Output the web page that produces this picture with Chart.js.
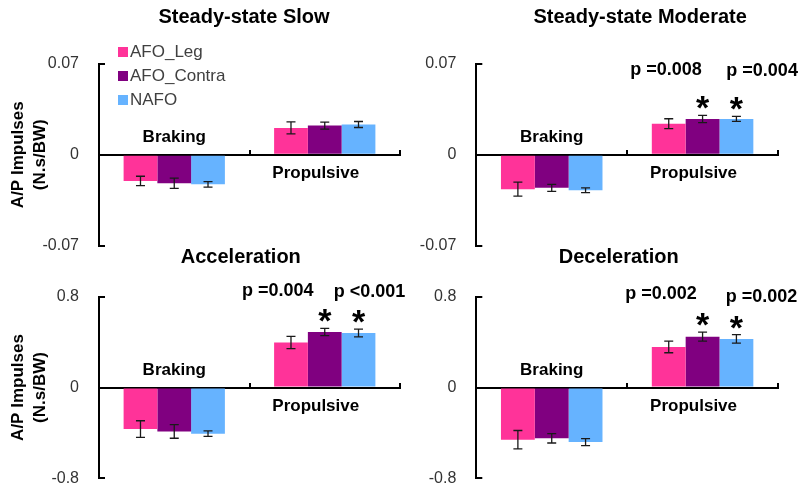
<!DOCTYPE html>
<html>
<head>
<meta charset="utf-8">
<title>A/P impulses by condition</title>
<script src="https://cdn.jsdelivr.net/npm/chart.js@4.4.1/dist/chart.umd.min.js"></script>
<style>
  body { margin: 0; background: #fff; }
  #wrap { position: relative; width: 800px; height: 489px; overflow: hidden; font-family: 'Liberation Sans', Arial, sans-serif; }
  #wrap canvas { position: absolute; }
  #legend { position: absolute; left: 118px; top: 40px; font-size: 17px; color: #404040; }
  #legend div { display: flex; align-items: center; height: 24px; white-space: nowrap; }
  #legend span { display: inline-block; width: 10px; height: 10px; margin-right: 2px; }
</style>
</head>
<body>
<div id="wrap">
  <canvas id="slow" width="420" height="262" style="left:0;top:0"></canvas>
  <canvas id="moderate" width="400" height="262" style="left:400px;top:0"></canvas>
  <canvas id="accel" width="420" height="249" style="left:0;top:240px"></canvas>
  <canvas id="decel" width="400" height="249" style="left:400px;top:240px"></canvas>
  <div id="legend"></div>
</div>
<script>
const FONT = "'Liberation Sans', Arial, sans-serif";

const phases = ['Braking', 'Propulsive'];
const seriesNames = ['AFO_Leg', 'AFO_Contra', 'NAFO'];
const seriesColors = ['#FF3399', '#800080', '#66B3FF'];

const steadyTicks = [-0.07, 0, 0.07];
const transientTicks = [-0.8, 0, 0.8];

// mean impulse per series, [braking, propulsive]
const slowMeans = [[-0.0201, 0.0206], [-0.0219, 0.0224], [-0.0227, 0.0232]];
const slowErrors = [[0.0036, 0.0046], [0.0039, 0.0027], [0.0021, 0.0023]];
const slowPLabels = ['', '', ''];

const moderateMeans = [[-0.0264, 0.0238], [-0.0254, 0.0274], [-0.0272, 0.0275]];
const moderateErrors = [[0.0054, 0.0038], [0.0027, 0.0028], [0.0018, 0.0019]];
const moderatePLabels = ['', 'p =0.008', 'p =0.004'];

const accelMeans = [[-0.366, 0.396], [-0.387, 0.489], [-0.407, 0.480]];
const accelErrors = [[0.073, 0.054], [0.060, 0.032], [0.024, 0.034]];
const accelPLabels = ['', 'p =0.004', 'p <0.001'];

const decelMeans = [[-0.460, 0.357], [-0.448, 0.448], [-0.481, 0.428]];
const decelErrors = [[0.081, 0.051], [0.041, 0.040], [0.031, 0.037]];
const decelPLabels = ['', 'p =0.002', 'p =0.002'];

// titles, phase names, error bars and significance marks
const decor = {
  id: 'decor',
  afterDatasetsDraw(chart, args, opts) {
    const ctx = chart.ctx;
    const area = chart.chartArea;
    const xs = chart.scales.x, ys = chart.scales.y;
    const zero = ys.getPixelForValue(0);
    ctx.save();
    ctx.fillStyle = '#000';
    ctx.textAlign = 'center';
    ctx.textBaseline = 'middle';

    ctx.font = 'bold 20px ' + FONT;
    ctx.fillText(opts.title, (area.left + area.right) / 2 + opts.titleShift, opts.titleY);

    ctx.font = 'bold 17px ' + FONT;
    ctx.fillText(phases[0], xs.getPixelForValue(0), zero - 17);
    ctx.fillText(phases[1], xs.getPixelForValue(1) - 9, zero + 19);

    ctx.strokeStyle = '#1a1a1a';
    ctx.lineWidth = 1.3;
    chart.data.datasets.forEach((ds, i) => {
      chart.getDatasetMeta(i).data.forEach((bar, j) => {
        const hi = ys.getPixelForValue(ds.data[j] + ds.errors[j]);
        const lo = ys.getPixelForValue(ds.data[j] - ds.errors[j]);
        ctx.beginPath();
        ctx.moveTo(bar.x, hi); ctx.lineTo(bar.x, lo);
        ctx.moveTo(bar.x - 4.5, hi); ctx.lineTo(bar.x + 4.5, hi);
        ctx.moveTo(bar.x - 4.5, lo); ctx.lineTo(bar.x + 4.5, lo);
        ctx.stroke();
      });

      if (!ds.pLabel) return;
      const bar = chart.getDatasetMeta(i).data[1];
      const starY = ys.getPixelForValue(ds.data[1] + ds.errors[1]) - 15;
      ctx.textBaseline = 'alphabetic';
      ctx.font = 'bold 34px ' + FONT;
      ctx.fillText('*', bar.x, starY + 19);
      ctx.textBaseline = 'middle';
      ctx.font = 'bold 18px ' + FONT;
      ctx.fillText(ds.pLabel, bar.x + opts.pShift[i], starY - opts.pLift);
    });
    ctx.restore();
  }
};

function makePanel(id, p) {
  const datasets = seriesNames.map((name, i) => ({
    label: name,
    data: p.means[i],
    errors: p.errors[i],
    pLabel: p.pLabels[i],
    backgroundColor: seriesColors[i],
    borderWidth: 0,
    barPercentage: 1,
    categoryPercentage: 0.673
  }));

  new Chart(document.getElementById(id), {
    type: 'bar',
    data: { labels: phases, datasets },
    plugins: [decor],
    options: {
      responsive: false,
      animation: false,
      layout: { padding: p.padding },
      plugins: {
        legend: { display: false },
        tooltip: { enabled: false },
        decor: { title: p.title, titleShift: p.titleShift, titleY: 17, pShift: p.pShift, pLift: p.pLift }
      },
      scales: {
        x: {
          position: { y: 0 },
          offset: true,
          ticks: { display: false },
          grid: { display: true, offset: true, drawOnChartArea: false, drawTicks: true, tickLength: -6, color: '#000', lineWidth: 2 },
          border: { display: true, color: '#000', width: 2 }
        },
        y: {
          min: p.yTicks[0],
          max: p.yTicks[p.yTicks.length - 1],
          afterBuildTicks: axis => { axis.ticks = p.yTicks.map(v => ({ value: v })); },
          // fixed axis width; the wide label padding must not shrink the plot vertically
          afterFit: axis => {
            axis.width = p.axisWidth;
            axis.paddingTop = 0;
            axis.paddingBottom = 0;
          },
          ticks: {
            padding: 26,
            color: '#333',
            font: { family: FONT, size: 16 },
            callback: v => String(v)
          },
          grid: { display: true, drawOnChartArea: false, drawTicks: true, tickLength: -6, color: '#000', lineWidth: 2 },
          border: { display: true, color: '#000', width: 2 },
          title: {
            display: p.yTitle,
            text: ['A/P Impulses', '(N.s/BW)'],
            color: '#000',
            font: { family: FONT, size: 17, weight: 'bold', lineHeight: 1.3 },
            padding: { top: 7, bottom: 0 }
          }
        }
      }
    }
  });
}

makePanel('slow', {
  title: 'Steady-state Slow', titleShift: -5.5,
  means: slowMeans, errors: slowErrors, pLabels: slowPLabels, yTicks: steadyTicks,
  axisWidth: 99, yTitle: true, pShift: [0, 0, 0], pLift: 0,
  padding: { left: 0, right: 20, top: 63.5, bottom: 16 }
});
makePanel('moderate', {
  title: 'Steady-state Moderate', titleShift: 13,
  means: moderateMeans, errors: moderateErrors, pLabels: moderatePLabels, yTicks: steadyTicks,
  axisWidth: 76.3, yTitle: false, pShift: [0, -36.6, 25.7], pLift: 30,
  padding: { left: 0, right: 22, top: 63.5, bottom: 16 }
});
makePanel('accel', {
  title: 'Acceleration', titleShift: -8.7,
  means: accelMeans, errors: accelErrors, pLabels: accelPLabels, yTicks: transientTicks,
  axisWidth: 99, yTitle: true, pShift: [0, -47, 11], pLift: 22,
  padding: { left: 0, right: 20, top: 56.7, bottom: 10.7 }
});
makePanel('decel', {
  title: 'Deceleration', titleShift: -8.4,
  means: decelMeans, errors: decelErrors, pLabels: decelPLabels, yTicks: transientTicks,
  axisWidth: 76.3, yTitle: false, pShift: [0, -41.6, 25], pLift: 23,
  padding: { left: 0, right: 22, top: 56.7, bottom: 10.7 }
});

// series key, top-left panel
const legend = document.getElementById('legend');
seriesNames.forEach((name, i) => {
  const row = document.createElement('div');
  const box = document.createElement('span');
  box.style.background = seriesColors[i];
  row.appendChild(box);
  row.appendChild(document.createTextNode(name));
  legend.appendChild(row);
});
</script>
</body>
</html>
